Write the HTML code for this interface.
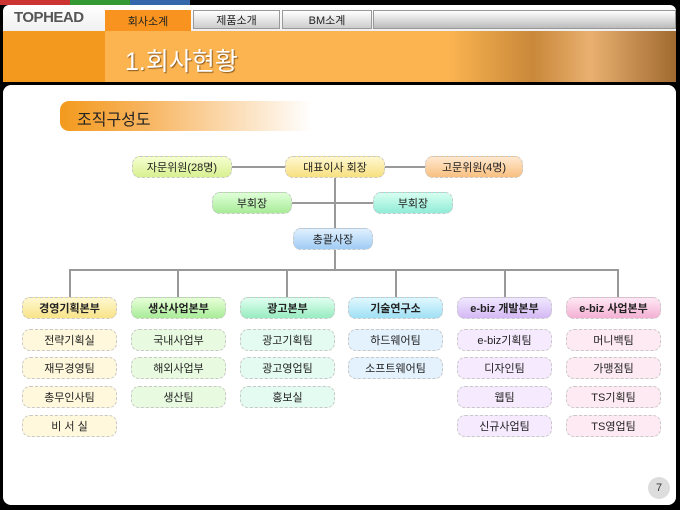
<!DOCTYPE html>
<html><head><meta charset="utf-8"><style>
*{margin:0;padding:0;box-sizing:border-box}
body{width:680px;height:510px;background:#000;position:relative;overflow:hidden;font-family:"Liberation Sans","Noto Sans CJK KR","NanumGothic",sans-serif}
.a{position:absolute}
.b{position:absolute;border:1px dashed #c8c8c8;border-radius:8px;display:flex;align-items:center;justify-content:center;font-size:11px;color:#222;height:22px;width:95px}
.h{font-weight:bold;font-size:11px}
.l{position:absolute;background:#999}
</style></head><body>
<div class="a" style="left:0;top:0;width:70px;height:5px;background:#c33"></div>
<div class="a" style="left:70px;top:0;width:60px;height:5px;background:#393"></div>
<div class="a" style="left:130px;top:0;width:60px;height:5px;background:#36a"></div>
<div class="a" style="left:3px;top:5px;width:673px;height:26px;background:linear-gradient(#fff,#f0f0f0);border-radius:6px 6px 0 0"></div>
<div class="a" style="left:14px;top:9px;font-size:15px;font-weight:bold;color:#555;letter-spacing:-0.5px">TOPHEAD</div>
<div class="a" style="left:105px;top:10px;width:86px;height:21px;background:#f7931e;font-size:11px;display:flex;align-items:center;justify-content:center;color:#222">회사소계</div>
<div class="a" style="left:193px;top:10px;width:87px;height:19px;background:linear-gradient(#fff,#ccc);border:1px solid #999;font-size:11px;display:flex;align-items:center;justify-content:center;color:#222">제품소개</div>
<div class="a" style="left:282px;top:10px;width:90px;height:19px;background:linear-gradient(#fff,#ccc);border:1px solid #999;font-size:11px;display:flex;align-items:center;justify-content:center;color:#222">BM소계</div>
<div class="a" style="left:373px;top:10px;width:303px;height:19px;background:linear-gradient(#fff,#bbb);border:1px solid #999"></div>
<div class="a" style="left:3px;top:31px;width:102px;height:51px;background:#f39a1e"></div>
<div class="a" style="left:105px;top:31px;width:571px;height:51px;background:linear-gradient(90deg,#fbb450 0%,#fbb450 60%,#c9883a 75%,#e9b070 85%,#a06a30 100%)"></div>
<div class="a" style="left:125px;top:42px;font-size:25px;color:#fff;text-shadow:1px 1px 1px #8a5a20">1.회사현황</div>
<div class="a" style="left:3px;top:85px;width:673px;height:420px;background:#fff;border-radius:8px"></div>
<div class="a" style="left:60px;top:101px;width:265px;height:30px;border-radius:9px;background:linear-gradient(90deg,#f39a1e 0%,#f7b25a 30%,#fff 95%)"></div>
<div class="a" style="left:77px;top:106px;font-size:16px;color:#222">조직구성도</div>

<div class="l" style="left:232px;top:166px;width:193px;height:2px"></div>
<div class="l" style="left:334px;top:177px;width:2px;height:93px"></div>
<div class="l" style="left:292px;top:202px;width:81px;height:2px"></div>
<div class="l" style="left:69px;top:269px;width:550px;height:2px"></div>
<div class="l" style="left:69px;top:269px;width:2px;height:28px"></div>
<div class="l" style="left:177px;top:269px;width:2px;height:28px"></div>
<div class="l" style="left:286px;top:269px;width:2px;height:28px"></div>
<div class="l" style="left:395px;top:269px;width:2px;height:28px"></div>
<div class="l" style="left:504px;top:269px;width:2px;height:28px"></div>
<div class="l" style="left:617px;top:269px;width:2px;height:28px"></div>

<div class="b" style="left:132px;top:156px;width:100px;background:linear-gradient(#f6ffd0,#d8f090)">자문위원(28명)</div>
<div class="b" style="left:285px;top:156px;width:100px;background:linear-gradient(#fff8d0,#f7e080)">대표이사 회장</div>
<div class="b" style="left:425px;top:156px;width:98px;background:linear-gradient(#ffe8d0,#f8c080)">고문위원(4명)</div>
<div class="b" style="left:212px;top:192px;width:80px;background:linear-gradient(#e0ffd8,#a8ec98)">부회장</div>
<div class="b" style="left:373px;top:192px;width:80px;background:linear-gradient(#d8fff0,#90ecd8)">부회장</div>
<div class="b" style="left:293px;top:228px;width:80px;background:linear-gradient(#e0f0ff,#a0ccf4)">총괄사장</div>

<div class="b h" style="left:22px;top:297px;background:linear-gradient(#fff8d0,#f8e488)">경영기획본부</div>
<div class="b h" style="left:131px;top:297px;background:linear-gradient(#e8ffd8,#a8ec98)">생산사업본부</div>
<div class="b h" style="left:240px;top:297px;background:linear-gradient(#e0fff0,#98ecc0)">광고본부</div>
<div class="b h" style="left:348px;top:297px;background:linear-gradient(#e0f8ff,#a0e0f4)">기술연구소</div>
<div class="b h" style="left:457px;top:297px;background:linear-gradient(#f0e8ff,#d4b8f4)">e-biz 개발본부</div>
<div class="b h" style="left:566px;top:297px;background:linear-gradient(#ffe8f4,#f4b0d4)">e-biz 사업본부</div>

<div class="b" style="left:22px;top:329px;background:#fff8dc">전략기획실</div>
<div class="b" style="left:22px;top:357px;background:#fff8dc">재무경영팀</div>
<div class="b" style="left:22px;top:386px;background:#fff8dc">총무인사팀</div>
<div class="b" style="left:22px;top:415px;background:#fff8dc">비 서 실</div>
<div class="b" style="left:131px;top:329px;background:#e8fbe0">국내사업부</div>
<div class="b" style="left:131px;top:357px;background:#e8fbe0">해외사업부</div>
<div class="b" style="left:131px;top:386px;background:#e8fbe0">생산팀</div>
<div class="b" style="left:240px;top:329px;background:#e4fbf2">광고기획팀</div>
<div class="b" style="left:240px;top:357px;background:#e4fbf2">광고영업팀</div>
<div class="b" style="left:240px;top:386px;background:#e4fbf2">홍보실</div>
<div class="b" style="left:348px;top:329px;background:#e4f2fe">하드웨어팀</div>
<div class="b" style="left:348px;top:357px;background:#e4f2fe">소프트웨어팀</div>
<div class="b" style="left:457px;top:329px;background:#f6eafe">e-biz기획팀</div>
<div class="b" style="left:457px;top:357px;background:#f6eafe">디자인팀</div>
<div class="b" style="left:457px;top:386px;background:#f6eafe">웹팀</div>
<div class="b" style="left:457px;top:415px;background:#f6eafe">신규사업팀</div>
<div class="b" style="left:566px;top:329px;background:#feeaf2">머니백팀</div>
<div class="b" style="left:566px;top:357px;background:#feeaf2">가맹점팀</div>
<div class="b" style="left:566px;top:386px;background:#feeaf2">TS기획팀</div>
<div class="b" style="left:566px;top:415px;background:#feeaf2">TS영업팀</div>

<div class="a" style="left:648px;top:477px;width:22px;height:22px;border-radius:50%;background:#ddd;font-size:11px;display:flex;align-items:center;justify-content:center;color:#333">7</div>
</body></html>
